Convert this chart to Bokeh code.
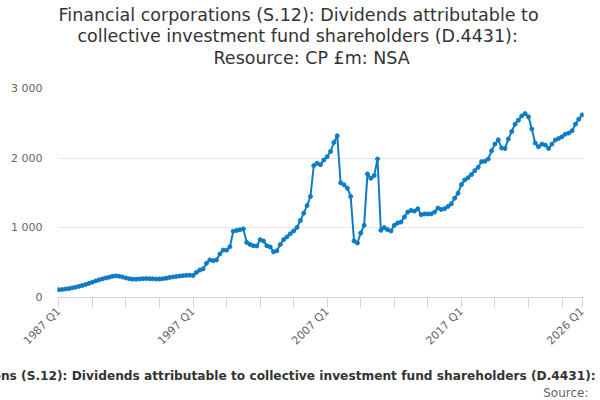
import numpy as np
from math import pi
from bokeh.plotting import figure
from bokeh.models import Range1d, FixedTicker, Title
from bokeh.embed import file_html
from bokeh.resources import INLINE

title_lines = [
    "Financial corporations (S.12): Dividends attributable to",
    "collective investment fund shareholders (D.4431):",
    "Resource: CP £m: NSA",
]
full_title = "Financial corporations (S.12): Dividends attributable to collective investment fund shareholders (D.4431): Resource: CP £m: NSA"
source_text = "Source:"

quarters = [f"{y} Q{q}" for y in range(1987, 2027) for q in range(1, 5)][:157]

values = [
    112, 115, 122, 128, 138, 148, 160, 173, 187, 203,
    220, 238, 253, 267, 280, 292, 305, 310, 305, 295,
    280, 270, 263, 262, 265, 270, 272, 270, 268, 265,
    265, 270, 278, 287, 295, 302, 308, 313, 318, 320,
    315,
    360, 393, 410, 490, 540, 528, 540, 625, 680, 680, 728,
    952, 962, 972, 985, 790, 762, 742, 740, 830,
    812, 742, 726, 655, 670, 760, 830, 870, 915, 955,
    1005, 1105, 1210, 1320, 1450, 1893, 1926, 1907, 1974, 2021,
    2097, 2226, 2321, 1646, 1617, 1569, 1450, 812, 783, 926,
    1036, 1774, 1712, 1750, 1988, 964, 1003, 974, 954, 1036,
    1069, 1083, 1154, 1226, 1250, 1240, 1274, 1188, 1200, 1200,
    1200, 1226, 1283, 1264, 1274, 1307, 1345, 1426, 1497, 1621,
    1688, 1720, 1764, 1821, 1869, 1950, 1954, 1988, 2107, 2202,
    2264, 2145, 2140, 2274, 2383, 2488, 2545, 2607, 2640, 2593,
    2417, 2217, 2164, 2202, 2188, 2140, 2202, 2260, 2283, 2307,
    2345, 2360, 2393, 2488, 2560, 2621,
]

x_tick_positions = list(range(0, len(values), 10)) + [len(values) - 1]
x_label_positions = [0, 40, 80, 120, len(values) - 1]
y_ticks = [0, 1000, 2000, 3000]
y_labels = ["0", "1 000", "2 000", "3 000"]

x = np.arange(len(values))

p = figure(width=600, height=400, output_backend="svg", toolbar_location=None,
           x_range=Range1d(-0.4, len(values) - 1 + 0.4), y_range=Range1d(0, 3000),
           min_border_left=57, min_border_right=17, min_border_top=88,
           min_border_bottom=102)
p.outline_line_color = None
p.background_fill_color = "white"

BLUE = "#0e7cc4"
p.line(x, values, line_color=BLUE, line_width=2)
p.scatter(x, values, size=4, fill_color=BLUE, line_color=BLUE)

xa = p.xaxis[0]
xa.ticker = FixedTicker(ticks=x_tick_positions)
xa.major_label_overrides = {i: (quarters[i] if i in x_label_positions else "") for i in x_tick_positions}
xa.major_label_orientation = pi / 4
xa.axis_line_color = "#ccd6eb"
xa.major_tick_line_color = "#ccd6eb"
xa.major_tick_out = 10
xa.major_tick_in = 0
xa.minor_tick_line_color = None
xa.major_label_text_font = "DejaVu Sans"
xa.major_label_text_font_size = "11px"
xa.major_label_text_color = "#666666"
xa.major_label_standoff = 2

ya = p.yaxis[0]
ya.ticker = FixedTicker(ticks=y_ticks)
ya.major_label_overrides = {t: l for t, l in zip(y_ticks, y_labels)}
ya.axis_line_color = None
ya.major_tick_line_color = None
ya.major_tick_out = 0
ya.major_tick_in = 0
ya.minor_tick_line_color = None
ya.major_label_text_font = "DejaVu Sans"
ya.major_label_text_font_size = "11px"
ya.major_label_text_color = "#666666"
ya.major_label_standoff = 15

p.xgrid.grid_line_color = None
p.ygrid.grid_line_color = "#e6e6e6"
p.ygrid.ticker = FixedTicker(ticks=y_ticks)

# --- titles above (added from the plot outward) ---
p.add_layout(Title(text=" ", text_font_size="1px", standoff=17.8), "above")
title_offsets = [1, 20, 156]
title_standoffs = [-1, -1, 0]
for line, off, so in reversed(list(zip(title_lines, title_offsets, title_standoffs))):
    p.add_layout(Title(text=line, align="left", offset=off, text_font="DejaVu Sans",
                       text_font_size="17.5px", text_font_style="normal",
                       text_color="#333333", standoff=so), "above")

# --- texts below (added from the plot outward) ---
p.add_layout(Title(text=" ", text_font_size="1px", standoff=8), "below")
p.add_layout(Title(text=full_title, align="left", offset=-194, text_font="DejaVu Sans",
                   text_font_size="12.2px", text_font_style="bold",
                   text_color="#333333", standoff=0), "below")
p.add_layout(Title(text=source_text, align="right", offset=-5, text_font="DejaVu Sans",
                   text_font_size="12px", text_font_style="normal",
                   text_color="#666666", standoff=2), "below")

open("out.html", "w").write(file_html(p, INLINE))
